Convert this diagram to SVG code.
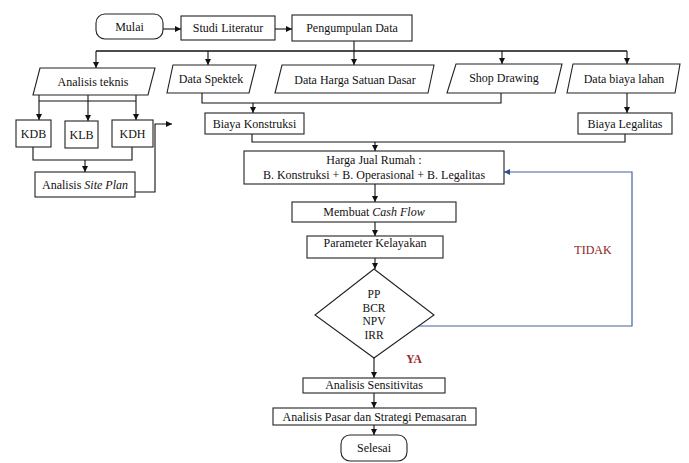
<svg xmlns="http://www.w3.org/2000/svg" width="689" height="463" viewBox="0 0 689 463">
<style>
.n{fill:#fff;stroke:#222;stroke-width:1.1}
.t{font-family:"Liberation Serif","Times New Roman",serif;font-size:12px;fill:#111;text-anchor:middle}
.d{font-size:11.5px}
.c{fill:none;stroke:#111;stroke-width:1.1}
.b{fill:none;stroke:#44639c;stroke-width:1.2}
</style>
<defs>
<marker id="a" viewBox="0 0 10 10" refX="10" refY="5" markerWidth="6" markerHeight="6" markerUnits="userSpaceOnUse" orient="auto"><path d="M0,0 L10,5 L0,10 z" fill="#111"/></marker>
<marker id="ab" viewBox="0 0 10 10" refX="10" refY="5" markerWidth="6" markerHeight="6" markerUnits="userSpaceOnUse" orient="auto"><path d="M0,0 L10,5 L0,10 z" fill="#2f4f8f"/></marker>
</defs>
<rect width="689" height="463" fill="#fff"/>
<g id="connectors">
<path class="c" d="M163,29 H181" marker-end="url(#a)"/>
<path class="c" d="M275,29 H292" marker-end="url(#a)"/>
<path class="c" d="M354,41 V65" marker-end="url(#a)"/>
<path class="c" d="M96,51 H627" style="stroke-width:1.6"/>
<path class="c" d="M96,51 V68" marker-end="url(#a)"/>
<path class="c" d="M208,51 V65" marker-end="url(#a)"/>
<path class="c" d="M502,51 V64" marker-end="url(#a)"/>
<path class="c" d="M627,51 V64" marker-end="url(#a)"/>
<path class="c" d="M39,95 V120" marker-end="url(#a)"/>
<path class="c" d="M88,95 V121" marker-end="url(#a)"/>
<path class="c" d="M136,95 V120" marker-end="url(#a)"/>
<path class="c" d="M39,101 H136"/>
<path class="c" d="M33,147 V160 H132 V147"/>
<path class="c" d="M85,160 V172" marker-end="url(#a)"/>
<path class="c" d="M135,192 H155 V124 H172" marker-end="url(#a)"/>
<path class="c" d="M202,93 V103 H501 V93"/>
<path class="c" d="M253,103 V113" marker-end="url(#a)"/>
<path class="c" d="M627,93 V113" marker-end="url(#a)"/>
<path class="c" d="M252,134 V142 H625 V134"/>
<path class="c" d="M375,142 V151" marker-end="url(#a)"/>
<path class="c" d="M375,184 V202" marker-end="url(#a)"/>
<path class="c" d="M375,222 V236" marker-end="url(#a)"/>
<path class="c" d="M375,258 V269" marker-end="url(#a)"/>
<path class="c" d="M374,358 V378" marker-end="url(#a)"/>
<path class="c" d="M374,393 V408" marker-end="url(#a)"/>
<path class="c" d="M374,425 V435" marker-end="url(#a)"/>
<path class="b" d="M417,326 H632 V172 H504" marker-end="url(#ab)"/>
</g>
<g id="mulai"><rect class="n" x="96" y="14" width="67" height="25" rx="9"/><text class="t" x="129.5" y="31">Mulai</text></g>
<g id="studi-literatur"><rect class="n" x="181" y="16" width="94" height="24"/><text class="t" x="228" y="32">Studi Literatur</text></g>
<g id="pengumpulan-data"><rect class="n" x="292" y="15" width="120" height="26"/><text class="t" x="352" y="32">Pengumpulan Data</text></g>
<g id="analisis-teknis"><polygon class="n" points="40,68 155,68 148,95 33,95"/><text class="t" x="93" y="86">Analisis teknis</text></g>
<g id="data-spektek"><polygon class="n" points="173,65 256,65 249,93 167,93"/><text class="t" x="211" y="83">Data Spektek</text></g>
<g id="data-harga"><polygon class="n" points="282,65 434,65 428,93 275,93"/><text class="t" x="355" y="84">Data Harga Satuan Dasar</text></g>
<g id="shop-drawing"><polygon class="n" points="456,64 562,64 555,93 447,93"/><text class="t" x="504" y="82">Shop Drawing</text></g>
<g id="data-biaya-lahan"><polygon class="n" points="573,64 680,64 675,93 567,93"/><text class="t" x="624" y="83">Data biaya lahan</text></g>
<g id="kdb"><rect class="n" x="16" y="120" width="35" height="27"/><text class="t" x="33.5" y="138">KDB</text></g>
<g id="klb"><rect class="n" x="65" y="121" width="33" height="27"/><text class="t" x="81.5" y="139">KLB</text></g>
<g id="kdh"><rect class="n" x="112" y="120" width="41" height="27"/><text class="t" x="132.5" y="138">KDH</text></g>
<g id="site-plan"><rect class="n" x="35" y="172" width="100" height="25"/><text class="t" x="85" y="189">Analisis <tspan font-style="italic">Site Plan</tspan></text></g>
<g id="biaya-konstruksi"><rect class="n" x="205" y="113" width="99" height="21"/><text class="t" x="254.5" y="128">Biaya Konstruksi</text></g>
<g id="biaya-legalitas"><rect class="n" x="578" y="113" width="94" height="21"/><text class="t" x="625" y="128">Biaya Legalitas</text></g>
<g id="harga-jual"><rect class="n" x="244" y="151" width="260" height="33"/><text class="t" x="374" y="164" font-size="12.5">Harga Jual Rumah :</text><text class="t" x="374" y="179" font-size="12.5">B. Konstruksi + B. Operasional + B. Legalitas</text></g>
<g id="cash-flow"><rect class="n" x="292" y="202" width="164" height="20"/><text class="t" x="374" y="216">Membuat <tspan font-style="italic">Cash Flow</tspan></text></g>
<g id="parameter"><rect class="n" x="307" y="236" width="136" height="22"/><text class="t" x="375" y="247">Parameter Kelayakan</text></g>
<g id="keputusan"><polygon class="n" points="374,269 434,315 374,358 315,315"/><text class="t d" x="374" y="298">PP</text><text class="t d" x="374" y="311.5">BCR</text><text class="t d" x="374" y="325">NPV</text><text class="t d" x="374" y="338.5">IRR</text></g>
<g id="sensitivitas"><rect class="n" x="303" y="378" width="142" height="15"/><text class="t" x="374" y="389">Analisis Sensitivitas</text></g>
<g id="pasar"><rect class="n" x="273" y="408" width="203" height="17"/><text class="t" x="374.5" y="421">Analisis Pasar dan Strategi Pemasaran</text></g>
<g id="selesai"><rect class="n" x="341" y="435" width="66" height="26" rx="9"/><text class="t" x="374" y="452">Selesai</text></g>
<g id="labels">
<text class="t" x="593" y="254" style="fill:#8b1c1c">TIDAK</text>
<text class="t" x="414" y="363" style="fill:#9b2a2a;font-weight:bold;font-size:11.5px">YA</text>
</g>
</svg>
